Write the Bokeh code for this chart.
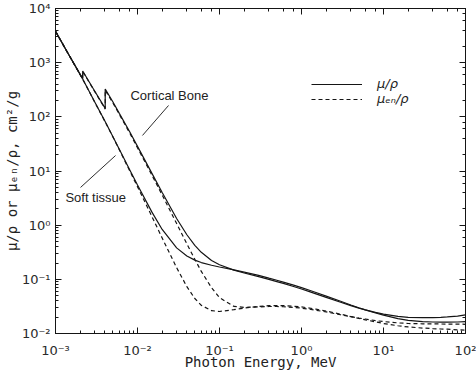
from bokeh.plotting import figure
from bokeh.models import (LogAxis, LogTicker, CustomJSTickFormatter, Legend,
                          LegendItem, Label, Range1d)
from bokeh.embed import file_html
from bokeh.resources import INLINE

# ---------------- data ----------------
# Soft tissue, photon energy in MeV
tissue_E = [1e-3, 1.5e-3, 2e-3, 2.1455e-3, 3e-3, 4e-3, 5e-3, 6e-3, 8e-3, 1e-2,
            1.5e-2, 2e-2, 3e-2, 4e-2, 5e-2, 6e-2, 8e-2, 0.1, 0.15, 0.2, 0.3,
            0.4, 0.5, 0.6, 0.8, 1.0, 1.25, 1.5, 2.0, 3.0, 4.0, 5.0, 6.0, 8.0,
            10.0, 15.0, 20.0, 30.0, 40.0, 50.0, 60.0, 80.0, 100.0]
tissue_mu = [3829, 1290, 600, 500, 190, 83.5, 43.5, 25.3, 10.7, 5.53,
             1.74, 0.834, 0.381, 0.269, 0.226, 0.204, 0.182, 0.169, 0.149,
             0.136, 0.118, 0.105, 0.0961, 0.0889, 0.0781, 0.0702, 0.0628,
             0.0571, 0.0490, 0.0393, 0.0336, 0.0299, 0.0273, 0.0239, 0.0218,
             0.0188, 0.0175, 0.0166, 0.0163, 0.0162, 0.0162, 0.0163, 0.0165]
tissue_muen = [3818, 1285, 597, 497, 188, 82.6, 42.8, 24.7, 10.2, 5.14,
               1.44, 0.578, 0.164, 0.0732, 0.0443, 0.0331, 0.0264, 0.0255,
               0.0275, 0.0295, 0.0317, 0.0326, 0.0328, 0.0327, 0.0319, 0.0309,
               0.0295, 0.0282, 0.0260, 0.0227, 0.0205, 0.0190, 0.0179, 0.0164,
               0.0153, 0.0139, 0.0132, 0.0126, 0.0123, 0.0121, 0.0120, 0.0117,
               0.0115]

# Cortical bone (P and Ca K-edges repeated on both sides)
bone_E = [1e-3, 1.5e-3, 2e-3, 2.1455e-3, 2.1455e-3, 3e-3, 4.0381e-3, 4.0381e-3,
          5e-3, 6e-3, 8e-3, 1e-2, 1.5e-2, 2e-2, 3e-2, 4e-2, 5e-2, 6e-2, 8e-2,
          0.1, 0.15, 0.2, 0.3, 0.4, 0.5, 0.6, 0.8, 1.0, 1.25, 1.5, 2.0, 3.0,
          4.0, 5.0, 6.0, 8.0, 10.0, 15.0, 20.0, 30.0, 40.0, 50.0, 60.0, 80.0,
          100.0]
bone_mu = [3781, 1290, 610, 505, 700, 300, 143, 327, 190, 116, 53.5, 28.5,
           9.03, 4.00, 1.33, 0.665, 0.424, 0.315, 0.223, 0.186, 0.148, 0.131,
           0.112, 0.0998, 0.0909, 0.0840, 0.0737, 0.0662, 0.0592, 0.0539,
           0.0464, 0.0377, 0.0327, 0.0295, 0.0273, 0.0245, 0.0228, 0.0207,
           0.0199, 0.0196, 0.0196, 0.0199, 0.0202, 0.0210, 0.0220]
bone_muen = [3772, 1285, 606, 500, 690, 295, 139, 310, 182, 111, 50.8, 26.8,
             8.39, 3.60, 1.07, 0.451, 0.234, 0.140, 0.0700, 0.0459, 0.0316,
             0.0304, 0.0310, 0.0315, 0.0315, 0.0312, 0.0304, 0.0294, 0.0281,
             0.0269, 0.0250, 0.0222, 0.0205, 0.0193, 0.0185, 0.0173, 0.0166,
             0.0157, 0.0153, 0.0151, 0.0150, 0.0150, 0.0149, 0.0149, 0.0148]

x_label = "Photon Energy, MeV"
y_label = "\u03bc/\u03c1 or \u03bc\u2091\u2099/\u03c1, cm\u00b2/g"
legend_labels = ["\u03bc/\u03c1", "\u03bc\u2091\u2099/\u03c1"]
bone_text = "Cortical Bone"
tissue_text = "Soft tissue"

# annotation anchors in data units (energy MeV, cm^2/g)
bone_label_at = (8.2e-3, 248)
bone_pointer = ((2.39e-2, 162), (1.15e-2, 45.3))
tissue_label_at = (1.32e-3, 3.24)
tissue_pointer = ((2.02e-3, 4.97), (5.4e-3, 19.3))

# ---------------- figure ----------------
INK = "#151515"
p = figure(width=476, height=374, x_axis_type="log", y_axis_type="log",
           x_range=Range1d(1e-3, 1e2), y_range=Range1d(1e-2, 1e4),
           output_backend="svg", toolbar_location=None,
           min_border_left=55, min_border_right=11, min_border_top=8,
           min_border_bottom=41)
p.grid.visible = False
p.outline_line_color = INK
p.background_fill_color = "white"
p.border_fill_color = "white"

sup_js = """
const sup = {"-":"\\u207b","0":"\\u2070","1":"\\u00b9","2":"\\u00b2","3":"\\u00b3",
             "4":"\\u2074","5":"\\u2075","6":"\\u2076","7":"\\u2077","8":"\\u2078","9":"\\u2079"};
const e = Math.round(Math.log10(tick));
return "10" + String(e).split("").map(c => sup[c]).join("");
"""

for ax in (p.xaxis[0], p.yaxis[0]):
    ax.formatter = CustomJSTickFormatter(code=sup_js)
    ax.major_tick_in = 6
    ax.major_tick_out = 0
    ax.minor_tick_in = 3
    ax.minor_tick_out = 0
    ax.axis_line_color = INK
    ax.major_tick_line_color = INK
    ax.minor_tick_line_color = INK
    ax.major_label_text_font = "DejaVu Sans"
    ax.major_label_text_font_size = "13px"
    ax.major_label_text_color = "#2a2a2a"
    ax.axis_label_text_font = "DejaVu Sans Mono"
    ax.axis_label_text_font_size = "14px"
    ax.axis_label_text_font_style = "normal"
    ax.axis_label_text_color = "#222222"

p.xaxis[0].axis_label = x_label
p.xaxis[0].major_label_standoff = 9
p.xaxis[0].axis_label_standoff = -7
p.yaxis[0].axis_label = y_label
p.yaxis[0].major_label_standoff = 5
p.yaxis[0].axis_label_standoff = -1

for side in ("above", "right"):
    ax = LogAxis(ticker=LogTicker(),
                 formatter=CustomJSTickFormatter(code="return '';"),
                 major_tick_in=6, major_tick_out=0, minor_tick_in=3,
                 minor_tick_out=0, major_label_standoff=0,
                 major_label_text_font_size="0px",
                 axis_line_color=INK, major_tick_line_color=INK,
                 minor_tick_line_color=INK)
    p.add_layout(ax, side)

lw = 1.2
r_bmu = p.line(bone_E, bone_mu, line_color=INK, line_width=lw)
r_bmen = p.line(bone_E, bone_muen, line_color=INK, line_width=lw,
                line_dash="4 3")
r_tmu = p.line(tissue_E, tissue_mu, line_color=INK, line_width=lw)
r_tmen = p.line(tissue_E, tissue_muen, line_color=INK, line_width=lw,
                line_dash="4 3")

# pointers
p.segment(x0=[bone_pointer[0][0], tissue_pointer[0][0]],
          y0=[bone_pointer[0][1], tissue_pointer[0][1]],
          x1=[bone_pointer[1][0], tissue_pointer[1][0]],
          y1=[bone_pointer[1][1], tissue_pointer[1][1]],
          line_color=INK, line_width=0.9)

for (x, y), t in ((bone_label_at, bone_text), (tissue_label_at, tissue_text)):
    p.add_layout(Label(x=x, y=y, text=t, text_font="Liberation Sans",
                       text_font_size="13px", text_color="#222222",
                       text_baseline="middle", text_align="left"))

legend = Legend(items=[LegendItem(label=legend_labels[0], renderers=[r_bmu]),
                       LegendItem(label=legend_labels[1], renderers=[r_bmen])],
                location=(256, 227), glyph_width=51, glyph_height=14,
                label_height=14, spacing=0, padding=0, margin=0,
                label_standoff=15, border_line_color=None,
                background_fill_alpha=0,
                label_text_font="DejaVu Sans", label_text_font_size="13px",
                label_text_font_style="italic", label_text_color="#222222")
p.add_layout(legend)

with open("out.html", "w", encoding="utf-8") as f:
    f.write(file_html(p, INLINE))
